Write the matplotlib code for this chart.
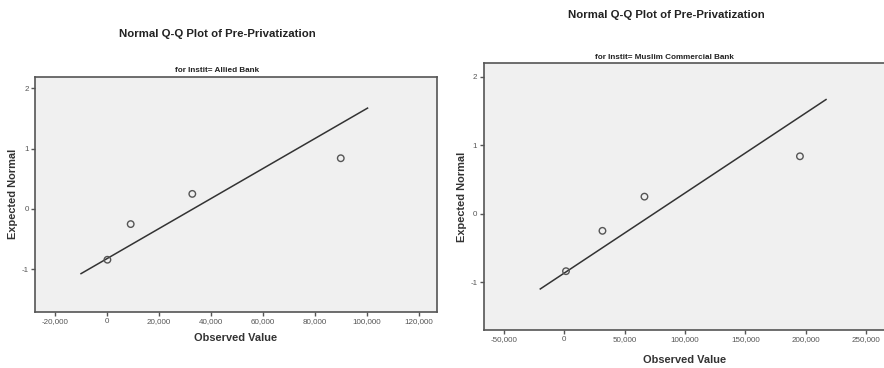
import matplotlib.pyplot as plt
from matplotlib.ticker import FuncFormatter

plt.rcParams['font.family'] = ['Liberation Sans', 'DejaVu Sans']
plt.rcParams['axes.unicode_minus'] = False

main_title = "Normal Q-Q Plot of Pre-Privatization"
banks = ["Allied Bank", "Muslim Commercial Bank"]

allied_obs = [250, 9200, 32900, 90000]
allied_exp = [-0.84, -0.25, 0.25, 0.84]
allied_line_x = [-9900, 100300]
allied_line_y = [-1.07, 1.67]

mcb_obs = [1400, 31600, 66400, 195200]
mcb_exp = [-0.84, -0.25, 0.25, 0.84]
mcb_line_x = [-19900, 216800]
mcb_line_y = [-1.10, 1.67]

allied_xticks = [-20000, 0, 20000, 40000, 60000, 80000, 100000, 120000]
mcb_xticks = [-50000, 0, 50000, 100000, 150000, 200000, 250000]
yticks = [-1, 0, 1, 2]

fig = plt.figure(figsize=(8.84, 3.68), dpi=100)

panels = [
    dict(rect=[0.0396, 0.153, 0.4547, 0.6386], obs=allied_obs, exp=allied_exp,
         lx=allied_line_x, ly=allied_line_y, xticks=allied_xticks,
         xlim=(-27600, 127000), ylim=(-1.70, 2.19), bank=banks[0],
         title_xy=(0.2455, 0.9076), sub_xy=(0.2455, 0.808),
         xlab_xy=(0.267, 0.0815), ylab_x=0.0147),
    dict(rect=[0.547, 0.1033, 0.458, 0.7247], obs=mcb_obs, exp=mcb_exp,
         lx=mcb_line_x, ly=mcb_line_y, xticks=mcb_xticks,
         xlim=(-66900, 268500), ylim=(-1.70, 2.20), bank=banks[1],
         title_xy=(0.7534, 0.959), sub_xy=(0.752, 0.845),
         xlab_xy=(0.774, 0.022), ylab_x=0.5226),
]

for p in panels:
    ax = fig.add_axes(p['rect'])
    ax.set_facecolor('#f0f0f0')
    ax.plot(p['lx'], p['ly'], color='#333333', lw=1.1, zorder=2)
    ax.scatter(p['obs'], p['exp'], s=22, facecolors='none',
               edgecolors='#555555', linewidths=1.0, zorder=3)
    ax.set_xlim(*p['xlim'])
    ax.set_ylim(*p['ylim'])
    ax.set_xticks(p['xticks'])
    ax.set_yticks(yticks)
    ax.xaxis.set_major_formatter(FuncFormatter(lambda v, pos: f"{v:,.0f}"))
    ax.tick_params(direction='out', length=3, width=1, color='#555555',
                   labelsize=5.8, labelcolor='#555555', pad=1.5)
    for s in ax.spines.values():
        s.set_color('#555555')
        s.set_linewidth(1.2)

    l, b, w, h = p['rect']
    fig.text(*p['title_xy'], main_title, ha='center', va='center',
             fontsize=8.2, fontweight='bold', color='#222222')
    fig.text(*p['sub_xy'], f"for Instit= {p['bank']}", ha='center',
             va='center', fontsize=5.9, fontweight='bold', color='#222222')
    fig.text(*p['xlab_xy'], "Observed Value", ha='center', va='center',
             fontsize=7.9, fontweight='bold', color='#333333')
    fig.text(p['ylab_x'], b + h / 2, "Expected Normal", ha='center',
             va='center', rotation=90, fontsize=7.9, fontweight='bold',
             color='#333333')

fig.savefig('out.png', dpi=100)
